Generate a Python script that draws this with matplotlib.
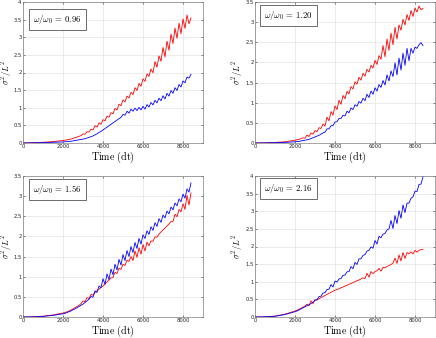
import numpy as np
import matplotlib
matplotlib.use('Agg')
import matplotlib.pyplot as plt

plt.rcParams['mathtext.fontset'] = 'cm'

# time axis (dt); coarse at start, every 100 dt afterwards
t = [0, 500, 1000, 1500, 2000] + list(range(2100, 8401, 100))

# ---- panel 1 : w/w0 = 0.96 ----
red_096 = [0, 0.01, 0.02, 0.04, 0.07,
           0.08, 0.09, 0.10, 0.11, 0.13, 0.15, 0.17, 0.19, 0.21,
           0.26, 0.25, 0.32, 0.31, 0.39, 0.37, 0.49, 0.45, 0.57, 0.53,
           0.66, 0.63, 0.76, 0.73, 0.86, 0.83, 0.98, 0.94, 1.10, 1.06,
           1.22, 1.17, 1.33, 1.28, 1.44, 1.37, 1.57, 1.49, 1.69, 1.61,
           1.82, 1.75, 1.96, 1.89, 2.10, 1.99, 2.31, 2.15, 2.47, 2.32,
           2.71, 2.44, 2.89, 2.63, 3.09, 2.82, 3.26, 2.97, 3.40, 3.10,
           3.52, 3.25, 3.63, 3.38, 3.55]
blue_096 = [0, 0.005, 0.01, 0.02, 0.03,
            0.035, 0.04, 0.045, 0.05, 0.06, 0.07, 0.08, 0.09, 0.10,
            0.11, 0.12, 0.14, 0.16, 0.18, 0.20, 0.23, 0.26, 0.30, 0.33,
            0.37, 0.41, 0.45, 0.49, 0.53, 0.57, 0.61, 0.65, 0.69, 0.73,
            0.81, 0.79, 0.90, 0.85, 0.96, 0.90, 0.99, 0.92, 1.01, 0.94,
            1.04, 0.96, 1.09, 1.02, 1.15, 1.08, 1.21, 1.14, 1.27, 1.20,
            1.34, 1.25, 1.41, 1.33, 1.49, 1.41, 1.57, 1.49, 1.66, 1.59,
            1.76, 1.71, 1.87, 1.84, 1.95]

# ---- panel 2 : w/w0 = 1.20 ----
red_120 = [0, 0.005, 0.015, 0.03, 0.07,
           0.08, 0.09, 0.11, 0.13, 0.12, 0.20, 0.16, 0.25, 0.22,
           0.31, 0.28, 0.38, 0.36, 0.47, 0.42, 0.64, 0.55, 0.78, 0.69,
           0.92, 0.83, 1.06, 0.96, 1.18, 1.10, 1.28, 1.22, 1.40, 1.34,
           1.52, 1.46, 1.63, 1.56, 1.73, 1.66, 1.83, 1.76, 1.93, 1.86,
           2.05, 1.95, 2.17, 2.08, 2.42, 2.14, 2.58, 2.30, 2.73, 2.44,
           2.87, 2.58, 2.93, 2.80, 3.07, 2.93, 3.19, 3.04, 3.29, 3.14,
           3.35, 3.25, 3.40, 3.31, 3.34]
blue_120 = [0, 0.003, 0.008, 0.015, 0.03,
            0.035, 0.04, 0.05, 0.06, 0.07, 0.08, 0.09, 0.11, 0.13,
            0.15, 0.17, 0.19, 0.22, 0.25, 0.27, 0.35, 0.35, 0.43, 0.43,
            0.52, 0.53, 0.61, 0.61, 0.69, 0.67, 0.79, 0.75, 0.87, 0.83,
            0.95, 0.91, 1.03, 0.99, 1.11, 1.05, 1.21, 1.13, 1.29, 1.21,
            1.37, 1.29, 1.45, 1.38, 1.55, 1.44, 1.69, 1.54, 1.79, 1.65,
            1.99, 1.69, 2.11, 1.81, 2.23, 1.93, 2.35, 2.04, 2.35, 2.23,
            2.38, 2.35, 2.44, 2.49, 2.42]

# ---- panel 3 : w/w0 = 1.56 ----
red_156 = [0, 0.005, 0.02, 0.05, 0.10,
           0.11, 0.13, 0.15, 0.17, 0.20, 0.23, 0.26, 0.29, 0.33,
           0.40, 0.38, 0.48, 0.46, 0.56, 0.54, 0.61, 0.65, 0.69, 0.73,
           0.77, 0.82, 0.87, 0.92, 0.97, 0.98, 1.11, 1.08, 1.21, 1.18,
           1.31, 1.28, 1.41, 1.38, 1.50, 1.40, 1.64, 1.48, 1.72, 1.56,
           1.80, 1.64, 1.86, 1.77, 1.89, 1.88, 1.99, 1.98, 2.06, 2.11,
           2.16, 2.21, 2.26, 2.31, 2.37, 2.37, 2.55, 2.49, 2.67, 2.61,
           2.81, 2.67, 3.02, 2.78, 3.08]
blue_156 = [0, 0.003, 0.015, 0.04, 0.08,
            0.09, 0.11, 0.13, 0.15, 0.18, 0.20, 0.23, 0.26, 0.29,
            0.32, 0.36, 0.40, 0.44, 0.51, 0.49, 0.65, 0.61, 0.77, 0.73,
            0.95, 0.81, 1.07, 0.93, 1.19, 1.05, 1.31, 1.17, 1.43, 1.29,
            1.55, 1.40, 1.65, 1.50, 1.75, 1.60, 1.85, 1.70, 1.95, 1.81,
            2.04, 1.95, 2.14, 2.05, 2.24, 2.15, 2.34, 2.25, 2.44, 2.35,
            2.53, 2.46, 2.63, 2.56, 2.73, 2.66, 2.83, 2.76, 2.93, 2.86,
            3.05, 2.95, 3.18, 3.10, 3.33]

# ---- panel 4 : w/w0 = 2.16 ----
red_216 = [0, 0.005, 0.025, 0.08, 0.17,
           0.19, 0.22, 0.25, 0.28, 0.31, 0.36, 0.32, 0.46, 0.38,
           0.49, 0.48, 0.52, 0.55, 0.58, 0.61, 0.64, 0.67, 0.70, 0.73,
           0.76, 0.78, 0.80, 0.83, 0.85, 0.88, 0.90, 0.93, 0.95, 0.98,
           1.00, 1.03, 1.05, 1.08, 1.11, 1.09, 1.24, 1.13, 1.29, 1.23,
           1.29, 1.31, 1.38, 1.30, 1.41, 1.40, 1.43, 1.46, 1.49, 1.53,
           1.67, 1.52, 1.76, 1.59, 1.83, 1.66, 1.83, 1.79, 1.85, 1.79,
           1.89, 1.84, 1.89, 1.91, 1.92]
blue_216 = [0, 0.005, 0.02, 0.07, 0.15,
            0.17, 0.20, 0.23, 0.26, 0.29, 0.32, 0.35, 0.38, 0.42,
            0.48, 0.49, 0.58, 0.59, 0.68, 0.69, 0.78, 0.79, 0.92, 0.85,
            1.02, 0.99, 1.08, 1.09, 1.18, 1.19, 1.28, 1.29, 1.43, 1.37,
            1.55, 1.49, 1.65, 1.65, 1.75, 1.77, 1.87, 1.89, 1.99, 1.95,
            2.17, 2.07, 2.29, 2.25, 2.35, 2.37, 2.47, 2.50, 2.74, 2.51,
            2.88, 2.65, 3.02, 2.80, 3.18, 2.96, 3.23, 3.23, 3.37, 3.41,
            3.57, 3.56, 3.76, 3.77, 3.98]

ratios = ['0.96', '1.20', '1.56', '2.16']
reds = [red_096, red_120, red_156, red_216]
blues = [blue_096, blue_120, blue_156, blue_216]
ymax = [4, 3.5, 3.5, 4]

W, H = 436, 338
fig = plt.figure(figsize=(W/100., H/100.), dpi=100)

# axes boxes in pixels: left, top, right, bottom
boxes = [(23, 2, 203, 143), (255, 2, 435, 143),
         (23, 176, 203, 317), (255, 176, 435, 317)]
# label box: left edge and top offset (pixels)
box_x = [33, 264, 33, 264]
box_off = [11, 7, 7, 6]
# y label centre (pixels)
ylab_x = [7, 238, 7, 238]

for i in range(4):
    l, tp, r, b = boxes[i]
    w, h = r-l, b-tp
    ax = fig.add_axes([l/W, 1-b/H, w/W, h/H])
    ax.plot(t, reds[i], color='#ff0000', lw=0.6)
    ax.plot(t, blues[i], color='#0000ff', lw=0.6)

    ax.set_xlim(0, 9000)
    ax.set_ylim(0, ymax[i])
    ax.set_xticks([0, 2000, 4000, 6000, 8000])
    yt = np.arange(0, ymax[i]+0.01, 0.5)
    ax.set_yticks(yt)
    ax.set_yticklabels(['%g' % v for v in yt])
    ax.grid(True, color='#e3e3e3', lw=0.5)
    ax.set_axisbelow(True)
    ax.tick_params(axis='both', direction='in', length=1.5, width=0.4,
                   labelsize=3.8, colors='#262626', pad=1.0,
                   top=True, right=True)
    for s in ax.spines.values():
        s.set_color('#808080')
        s.set_linewidth(0.5)

    ax.set_xlabel(r'$\mathrm{Time\ (dt)}$', fontsize=7.2)
    ax.xaxis.set_label_coords(0.5, -14.5/h)
    ax.xaxis.label.set_va('center')
    ax.set_ylabel(r'$\sigma^2/L^2$', fontsize=6.1)
    ax.yaxis.set_label_coords((ylab_x[i]-l)/w, 0.5)
    ax.yaxis.label.set_va('center')

    x0 = (box_x[i] - l)/w
    y0 = 1 - box_off[i]/h
    ax.text(x0, y0, r'$\omega/\omega_0\,=\,%s$' % ratios[i], transform=ax.transAxes,
            fontsize=6.3, va='top', ha='left',
            bbox=dict(boxstyle='square,pad=0.5', fc='white', ec='#555555', lw=0.6))

plt.savefig('out.png', dpi=100)
